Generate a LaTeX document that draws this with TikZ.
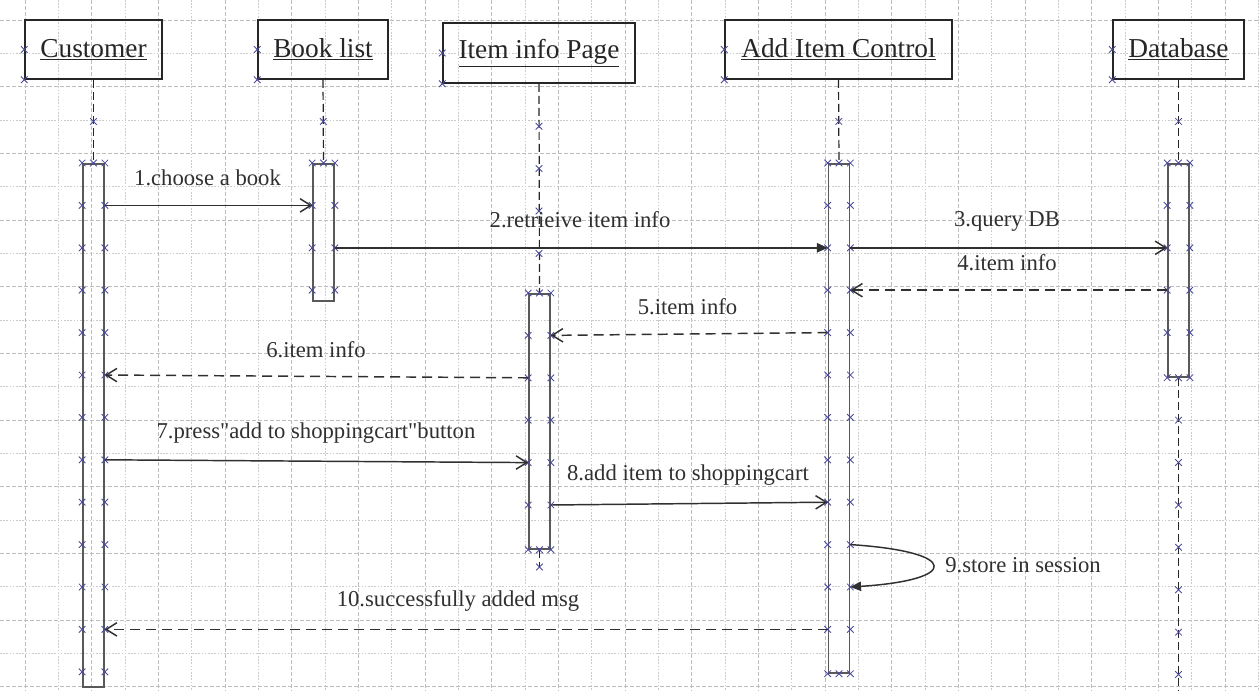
\documentclass[tikz,border=0pt]{standalone}
\usepackage{fontspec}
\setmainfont{Liberation Serif}
\newfontfamily\msgfont{Liberation Serif}
\usetikzlibrary{arrows.meta,calc}
\definecolor{ink}{HTML}{303030}
\definecolor{cptc}{HTML}{4A4A9A}
\definecolor{gridc}{HTML}{BEBEBE}
\begin{document}
\begin{tikzpicture}[x=0.75pt,y=-0.75pt,
  head/.style={draw=black!85,line width=1.2pt,minimum height=44.25pt,inner sep=0pt,
    font=\fontsize{20.5}{24}\selectfont,text=black!85},
  act/.style={draw=black!65,line width=1.3pt,minimum width=15.75pt,inner sep=0pt,anchor=north},
  life/.style={draw=black!85,line width=0.9pt,dash pattern=on 6pt off 3pt},
  call/.style={draw=ink,line width=1.1pt,-{Straight Barb[length=8pt,width=10pt]}},
  callf/.style={draw=ink,line width=1.1pt,-{Triangle[length=8pt,width=7pt]}},
  reply/.style={call,dash pattern=on 7.5pt off 4.5pt},
  msg/.style={font=\msgfont\fontsize{17}{20}\selectfont,text=ink,inner sep=0pt},
  cpt/.style={draw=cptc,line width=0.65pt},
  gmaj/.style={draw=gridc,line width=0.6pt,dash pattern=on 3pt off 1.5pt},
  gmin/.style={draw=gridc!80,line width=0.5pt,dash pattern=on 1.2pt off 1.2pt},
  cross/.pic={\draw[cpt] (-3.3,-3.3)--(3.3,3.3) (-3.3,3.3)--(3.3,-3.3);},
]
\useasboundingbox (0,0) rectangle (1259,691);
\fill[white] (0,0) rectangle (1259,691);

% background grid
\foreach \gx in {58.33,125,...,1259} \draw[gmin] (\gx,0) -- (\gx,691);
\foreach \gx in {25,91.67,...,1259} \draw[gmaj] (\gx,0) -- (\gx,691);
\foreach \gy in {53.33,120,...,691} \draw[gmin] (0,\gy) -- (1259,\gy);
\foreach \gy in {20,86.67,...,691} \draw[gmaj] (0,\gy) -- (1259,\gy);

% object headers
\node[head,minimum width=102.75pt] (cust) at (93.5,49.5) {\underline{Customer}};
\node[head,minimum width=97.5pt] (book) at (323,49.5) {\underline{Book list}};
\node[head,minimum width=144pt,minimum height=45pt] (item) at (539,53) {\underline{Item info Page}};
\node[head,minimum width=170.25pt] (ctrl) at (838.5,49.5) {\underline{Add Item Control}};
\node[head,minimum width=98.25pt] (db) at (1178.5,49.5) {\underline{Database}};

% activation bars
\node[act,minimum height=392.25pt] (cact) at (93.5,163) {};
\node[act,minimum height=102.75pt] (bact) at (323.5,163) {};
\node[act,minimum height=191.25pt] (iact) at (539.5,293) {};
\node[act,minimum height=381.75pt] (aact) at (839,163) {};
\node[act,minimum height=159.75pt] (dact) at (1178.5,163) {};

% lifelines
\coordinate (itail) at (539.5,567);
\coordinate (dtail) at (1178.5,691);
\draw[life] (cust.south) -- (cact.north);
\draw[life] (book.south) -- (bact.north);
\draw[life] (item.south) -- (iact.north);
\draw[life] (ctrl.south) -- (aact.north);
\draw[life] (db.south) -- (dact.north);
\draw[life] (iact.south) -- (itail);
\draw[life] (dact.south) -- (dtail);

% connection points on the bars
\foreach \n/\k in {cact/12,bact/3,iact/5,aact/11,dact/4}{
  \foreach \j in {1,...,\k}{
    \pic at ($(\n.north west)+(0,42.4*\j)$) {cross};
    \pic at ($(\n.north east)+(0,42.4*\j)$) {cross};
  }
  \pic at (\n.north west) {cross};
  \pic at (\n.north) {cross};
  \pic at (\n.north east) {cross};
}
\foreach \n in {iact,aact,dact}{
  \pic at (\n.south west) {cross};
  \pic at (\n.south) {cross};
  \pic at (\n.south east) {cross};
}
% connection points on headers and lifelines
\foreach \n in {cust,book,item,ctrl,db}{
  \pic at (\n.west) {cross};
  \pic at (\n.south west) {cross};
}
\pic at ($(cust.south)!0.5!(cact.north)$) {cross};
\pic at ($(book.south)!0.5!(bact.north)$) {cross};
\pic at ($(ctrl.south)!0.5!(aact.north)$) {cross};
\pic at ($(db.south)!0.5!(dact.north)$) {cross};
\foreach \j in {1,...,4} \pic at ($(item.south)+(0,42.4*\j)$) {cross};
\foreach \j in {1,...,7} \pic at ($(dact.south)+(0,42.4*\j)$) {cross};
\pic at (itail) {cross};

% message anchor points
\coordinate (c1) at ($(cact.north east)+(0,42.4)$);
\coordinate (b1) at ($(bact.north west)+(0,42.4)$);
\coordinate (b2) at ($(bact.north east)+(0,84.8)$);
\coordinate (a2w) at ($(aact.north west)+(0,84.8)$);
\coordinate (a2e) at ($(aact.north east)+(0,84.8)$);
\coordinate (d2) at ($(dact.north west)+(0,84.8)$);
\coordinate (d3) at ($(dact.north west)+(0,127.2)$);
\coordinate (a3) at ($(aact.north east)+(0,127.2)$);
\coordinate (a4) at ($(aact.north west)+(0,169.6)$);
\coordinate (i1) at ($(iact.north east)+(0,42.4)$);
\coordinate (i2) at ($(iact.north west)+(0,84.8)$);
\coordinate (c5) at ($(cact.north east)+(0,212)$);
\coordinate (c7) at ($(cact.north east)+(0,296.8)$);
\coordinate (i4) at ($(iact.north west)+(0,169.6)$);
\coordinate (i5) at ($(iact.north east)+(0,212)$);
\coordinate (a8) at ($(aact.north west)+(0,339.2)$);
\coordinate (a9) at ($(aact.north east)+(0,381.6)$);
\coordinate (a10) at ($(aact.north east)+(0,424)$);
\coordinate (a11) at ($(aact.north west)+(0,466.4)$);
\coordinate (c11) at ($(cact.north east)+(0,466.4)$);

% messages
\draw[call] (c1) -- (b1);
\draw[callf] (b2) -- (a2w);
\draw[call] (a2e) -- (d2);
\draw[reply] (d3) -- (a3);
\draw[reply] (a4) -- (i1);
\draw[reply] (i2) -- (c5);
\draw[call] (c7) -- (i4);
\draw[call] (i5) -- (a8);
\draw[callf] (a9) .. controls +(110,7) and +(110,-7) .. (a10);
\draw[reply] (a11) -- (c11);

% message labels
\node[msg] (l1) at (207.5,178) {1.choose a book};
\node[msg] (l2) at (580,220) {2.retrieive item info};
\node[msg] (l3) at (1007,221) {3.query DB};
\node[msg] (l4) at (1007,263) {4.item info};
\node[msg] (l5) at (687.5,307) {5.item info};
\node[msg] (l6) at (316,350) {6.item info};
\node[msg] (l7) at (316,433) {7.press"add to shoppingcart"button};
\node[msg] (l8) at (688,475) {8.add item to shoppingcart};
\node[msg,anchor=west] (l9) at (945,565) {9.store in session};
\node[msg] (l10) at (458,601) {10.successfully added msg};
\end{tikzpicture}
\end{document}
